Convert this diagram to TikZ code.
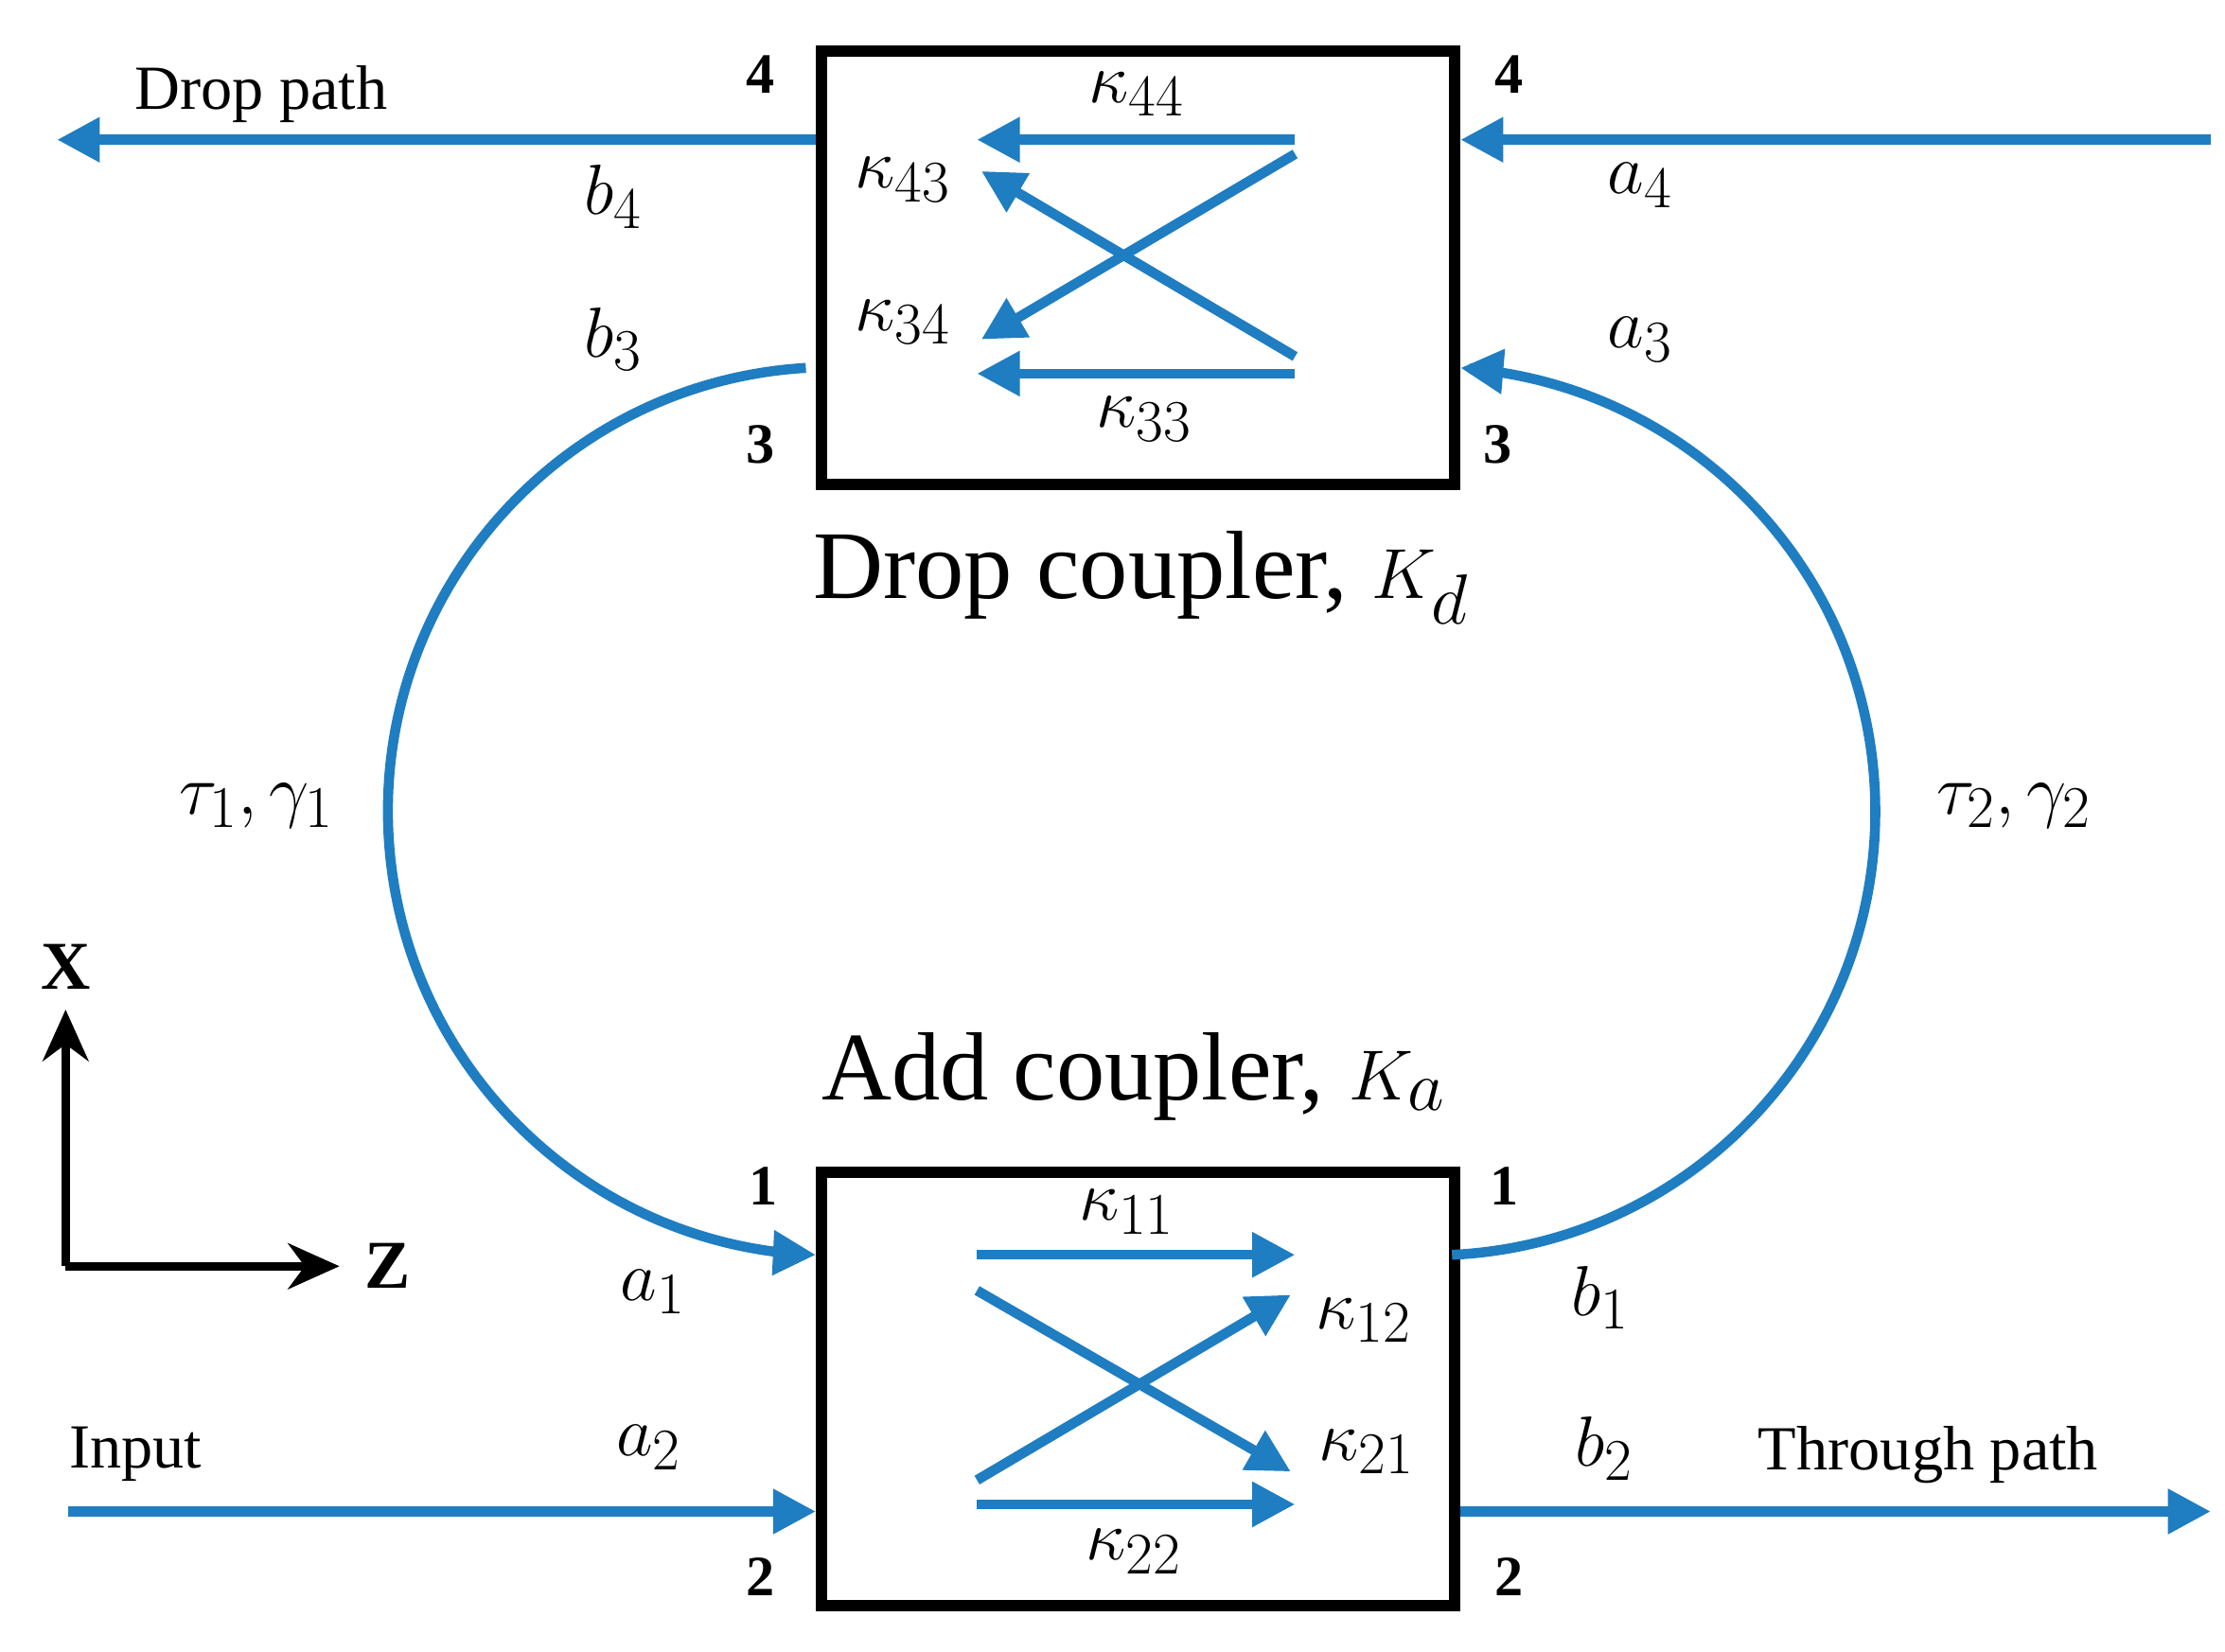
\documentclass[tikz,border=0pt]{standalone}
\usepackage{fontspec}
\setmainfont{Liberation Serif}
\usetikzlibrary{arrows.meta}
\definecolor{wg}{HTML}{1F7DC1}
\begin{document}
\begin{tikzpicture}[x=0.5pt,y=-0.5pt,
  wave/.style={wg,line width=3.5pt,-{Triangle[length=15pt,width=15pt]}},
  ring/.style={wg,line width=3.5pt},
  box/.style={draw=black,line width=4pt,inner sep=0pt,minimum width=222pt,minimum height=152pt},
  port/.style={font=\fontsize{20}{20}\selectfont\bfseries},
  lab/.style={font=\fontsize{29}{29}\selectfont},
  txt/.style={font=\fontsize{22}{22}\selectfont},
  big/.style={font=\fontsize{34}{34}\selectfont}]
\useasboundingbox (0,0) rectangle (1560,1158);
\node[box] (drop) at (798,188) {};
\node[box] (add) at (798,974) {};
% top external
\coordinate (dpend) at (40,98);
\coordinate (a4start) at (1550,98);
\draw[wave] (drop.west |- 0,98) -- (dpend);
\draw[wave] (a4start) -- (drop.east |- 0,98);
% inside top
\coordinate (t1) at (908,98); \coordinate (t1e) at (685,98);
\coordinate (t2) at (908,262); \coordinate (t2e) at (685,262);
\coordinate (t3) at (908,108); \coordinate (t3e) at (688,238);
\coordinate (t4) at (908,250); \coordinate (t4e) at (688,120);
\draw[wave] (t1) -- (t1e);
\draw[wave] (t2) -- (t2e);
\draw[wave] (t3) -- (t3e);
\draw[wave] (t4) -- (t4e);
% rings
\coordinate (l1) at (565,258);
\draw[ring] (l1) arc[start angle=-93.4,end angle=-265,radius=311.5] coordinate (l2);
\draw[wave] (l2) -- (add.west |- 0,880);
\coordinate (r1) at (1018,880);
\draw[ring] (r1) arc[start angle=87.3,end angle=-85,radius=311.5] coordinate (r2);
\draw[wave] (r2) -- (drop.east |- 0,258);
% bottom external
\coordinate (inp) at (48,1060);
\coordinate (thr) at (1550,1060);
\draw[wave] (inp) -- (add.west |- 0,1060);
\draw[wave] (add.east |- 0,1060) -- (thr);
% inside bottom
\coordinate (u1) at (685,880); \coordinate (u1e) at (908,880);
\coordinate (u2) at (685,1055); \coordinate (u2e) at (908,1055);
\coordinate (u3) at (685,905); \coordinate (u3e) at (905,1032);
\coordinate (u4) at (685,1038); \coordinate (u4e) at (905,908);
\draw[wave] (u1) -- (u1e);
\draw[wave] (u2) -- (u2e);
\draw[wave] (u3) -- (u3e);
\draw[wave] (u4) -- (u4e);
% axes
\coordinate (o) at (46,888);
\coordinate (ox) at (46,708);
\coordinate (oz) at (238,888);
\draw[line width=3pt,-{Stealth[length=18pt,width=16pt]}] (o) -- (ox);
\draw[line width=3pt,-{Stealth[length=18pt,width=16pt]}] (o) -- (oz);
\node[font=\fontsize{24}{24}\selectfont\bfseries] (xl) at (46,678) {X};
\node[font=\fontsize{24}{24}\selectfont\bfseries] (zl) at (272,888) {Z};
% ports
\node[port] (p4l) at (533,52) {4};
\node[port] (p4r) at (1058,52) {4};
\node[port] (p3l) at (533,312) {3};
\node[port] (p3r) at (1050,312) {3};
\node[port] (p1l) at (535,832) {1};
\node[port] (p1r) at (1055,832) {1};
\node[port] (p2l) at (533,1106) {2};
\node[port] (p2r) at (1058,1106) {2};
% amplitude labels
\node[lab] (b4) at (430,138) {$b_4$};
\node[lab] (b3) at (430,238) {$b_3$};
\node[lab] (a4) at (1150,130) {$a_4$};
\node[lab] (a3) at (1150,238) {$a_3$};
\node[lab] (a1) at (458,906) {$a_1$};
\node[lab] (a2) at (455,1015) {$a_2$};
\node[lab] (b1) at (1122,910) {$b_1$};
\node[lab] (b2) at (1125,1016) {$b_2$};
\node[lab] (k44) at (797,66) {$\kappa_{44}$};
\node[lab] (k43) at (633,126) {$\kappa_{43}$};
\node[lab] (k34) at (633,226) {$\kappa_{34}$};
\node[lab] (k33) at (802,294) {$\kappa_{33}$};
\node[lab] (k11) at (790,850) {$\kappa_{11}$};
\node[lab] (k12) at (956,926) {$\kappa_{12}$};
\node[lab] (k21) at (958,1018) {$\kappa_{21}$};
\node[lab] (k22) at (795,1088) {$\kappa_{22}$};
\node[lab] (tg1) at (180,565) {$\tau_1,\gamma_1$};
\node[lab] (tg2) at (1412,565) {$\tau_2,\gamma_2$};
\node[txt] (dp) at (183,66) {Drop path};
\node[txt] (in) at (95,1020) {Input};
\node[txt] (tp) at (1352,1020) {Through path};
\node[big] (dc) at (800,405) {Drop coupler, $K_d$};
\node[big] (ac) at (795,755) {Add coupler, $K_a$};
\end{tikzpicture}
\end{document}
